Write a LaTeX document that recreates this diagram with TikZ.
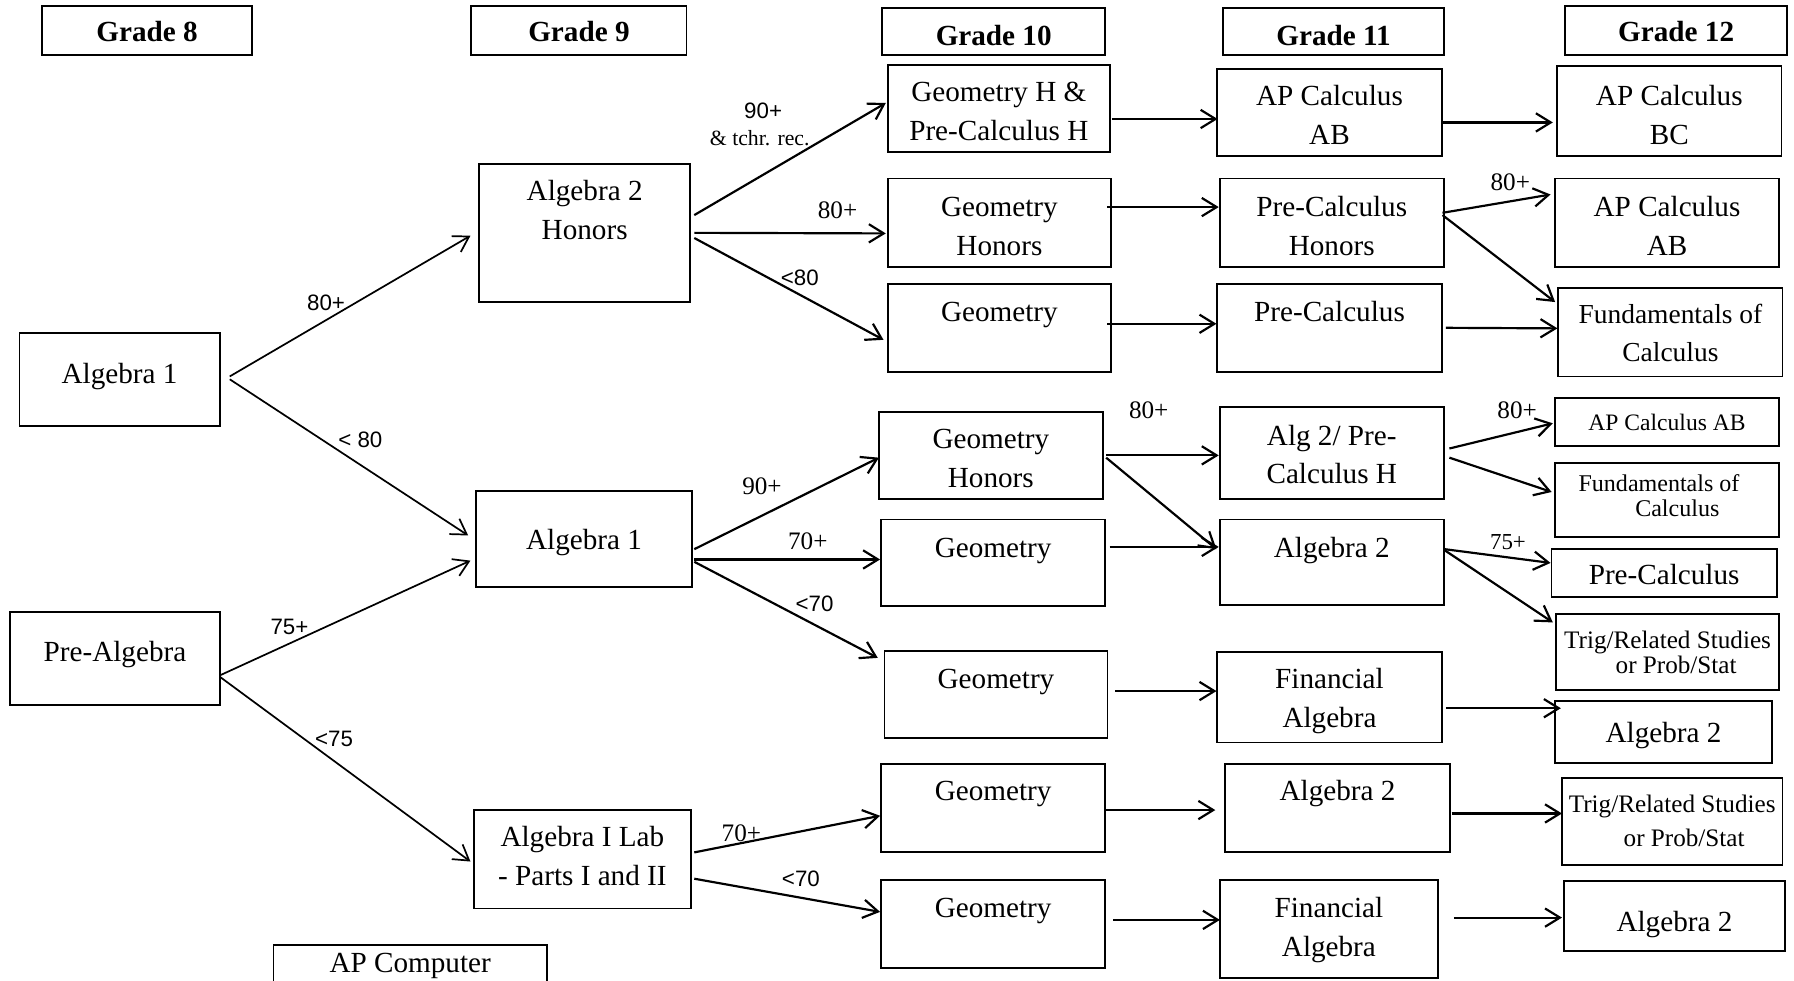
\documentclass[tikz,border=0pt]{standalone}
\usepackage{fontspec}
\setmainfont{Liberation Serif}
\setsansfont{Liberation Sans}
\usetikzlibrary{arrows.meta}
\newcommand\cellbox[1]{\begin{tabular}[t]{@{}c@{}}#1\end{tabular}}
\begin{document}
\begin{tikzpicture}[x=1pt,y=-1pt,
  bx/.style n args={4}{draw, line width=1.6pt, inner sep=0pt,
    font=\fontsize{25.5}{34}\selectfont,
    minimum width=#1pt, minimum height=#2pt, text height=#3pt, text depth=#4pt},
  hdr/.style n args={4}{bx={#1}{#2}{#3}{#4}, font=\bfseries\fontsize{25.5}{34}\selectfont},
  ar/.style={line width=1.9pt, -{Straight Barb[length=13pt,width=16pt]}},
  art/.style={ar, line width=1.5pt},
  ls/.style={inner sep=0pt, font=\sffamily\fontsize{19.5}{22}\selectfont},
  lr/.style={inner sep=0pt, font=\fontsize{22}{24}\selectfont}]
\useasboundingbox (0,0) rectangle (1568,857);
\clip (0,0) rectangle (1568,857);

% headers
\node[hdr={183}{43}{31.5}{11.5}] (g8) at (128.5,26.5) {\cellbox{Grade 8}};
\node[hdr={188}{43}{31.5}{11.5}] (g9) at (506,26.5) {\cellbox{Grade 9}};
\node[hdr={195}{41}{32.5}{8.5}] (g10) at (868.5,27.5) {\cellbox{Grade 10}};
\node[hdr={193}{41}{32.5}{8.5}] (g11) at (1165.5,27.5) {\cellbox{Grade 11}};
\node[hdr={194}{43}{31.5}{11.5}] (g12) at (1465,26.5) {\cellbox{Grade 12}};

% grade 8
\node[bx={175}{81}{44}{37}] (a8) at (104.5,331.5) {\cellbox{Algebra 1}};
\node[bx={183}{81}{43}{38}] (pa) at (100.5,575.5) {\cellbox{Pre-Algebra}};
\node[bx={239}{70}{24}{46}] (apc) at (358.5,861) {\cellbox{AP Computer}};

% grade 9
\node[bx={184}{121}{32}{89}] (a2h) at (511,203.5) {\cellbox{Algebra 2\\Honors}};
\node[bx={189}{84}{51}{33}] (a9) at (510.5,471) {\cellbox{Algebra 1}};
\node[bx={190}{86}{32}{54}] (lab) at (509,751) {\cellbox{Algebra I Lab\\- Parts I and II}};

% grade 10
\node[bx={194}{76}{32}{44}] (t1) at (873,95) {\cellbox{Geometry H \&\\Pre-Calculus H}};
\node[bx={195}{77}{33}{44}] (t2) at (873.5,194.5) {\cellbox{Geometry\\Honors}};
\node[bx={195}{77}{33}{44}] (t3) at (873.5,286.5) {\cellbox{Geometry}};
\node[bx={196}{76}{32}{44}] (m1) at (866,398) {\cellbox{Geometry\\Honors}};
\node[bx={196}{76}{33}{43}] (m2) at (868,492) {\cellbox{Geometry}};
\node[bx={195}{76}{33}{43}] (m3) at (870.5,607) {\cellbox{Geometry}};
\node[bx={196}{77}{32}{45}] (b1) at (868,706.5) {\cellbox{Geometry}};
\node[bx={196}{77}{33}{44}] (b2) at (868,807.5) {\cellbox{Geometry}};

% grade 11
\node[bx={196}{76}{32}{44}] (u1) at (1162,98) {\cellbox{AP Calculus\\AB}};
\node[bx={196}{77}{33}{44}] (u2) at (1164,194.5) {\cellbox{Pre-Calculus\\Honors}};
\node[bx={196}{77}{33}{44}] (u3) at (1162,286.5) {\cellbox{Pre-Calculus}};
\node[bx={196}{80}{33}{47}] (v1) at (1164,396) {\cellbox{Alg 2/ Pre-\\Calculus H}};
\node[bx={196}{75}{33}{42}] (v2) at (1164,491.5) {\cellbox{Algebra 2}};
\node[bx={196}{79}{32}{47}] (v3) at (1162,609.5) {\cellbox{Financial\\Algebra}};
\node[bx={196}{77}{32}{45}] (w1) at (1169,706.5) {\cellbox{Algebra 2}};
\node[bx={191}{86}{33}{53}] (w2) at (1161.5,812) {\cellbox{Financial\\Algebra}};

% grade 12
\node[bx={196}{78}{34}{44}] (z1) at (1459,97) {\cellbox{AP Calculus\\BC}};
\node[bx={196}{77}{33}{44}] (z2) at (1457,194.5) {\cellbox{AP Calculus\\AB}};
\node[bx={196}{77}{31}{46}, font=\fontsize{24}{33}\selectfont] (z3) at (1460,290.5) {\cellbox{Fundamentals of\\Calculus}};
\node[bx={196}{42}{28.5}{13.5}, font=\fontsize{20.6}{24}\selectfont] (y1) at (1457,369) {\cellbox{AP Calculus AB}};
\node[bx={196}{64}{25}{39}, font=\fontsize{21}{21}\selectfont] (y2) at (1457,437) {\cellbox{Fundamentals of\kern14pt\\\kern18pt Calculus}};
\node[bx={197}{42}{30.5}{11.5}] (y3) at (1454.5,501) {\cellbox{Pre-Calculus}};
\node[bx={195}{66}{30}{36}, font=\fontsize{22}{22}\selectfont] (y4) at (1457.5,570) {\cellbox{Trig/Related Studies\\\kern15pt or Prob/Stat}};
\node[bx={190}{54}{36}{18}] (y5) at (1454,640) {\cellbox{Algebra 2}};
\node[bx={193}{76}{30}{46}, font=\fontsize{22}{30}\selectfont] (x1) at (1461.5,718) {\cellbox{Trig/Related Studies\\\kern21pt or Prob/Stat}};
\node[bx={193}{61}{44}{17}] (x2) at (1463.5,800.5) {\cellbox{Algebra 2}};

% connectors grade 8 -> 9
\draw[art] ([xshift=8pt,yshift=2.5pt]a8.east) -- ([xshift=-7pt,yshift=-2.5pt]a2h.west);
\draw[art] ([xshift=8pt]a8.east) -- ([xshift=-6pt,yshift=3pt]a9.west);
\draw[art] ([yshift=-14.5pt]pa.east) -- ([xshift=-4pt,yshift=-19pt]a9.west);
\draw[art] ([yshift=-16.5pt]pa.east) -- ([xshift=-2pt,yshift=-2pt]lab.west);

% grade 9 -> 10
\draw[ar] ([xshift=3pt,yshift=15.5pt]a2h.east) -- ([xshift=-1pt,yshift=5pt]t1.west);
\draw[ar] ([xshift=3pt]a2h.east) -- ([xshift=-1pt,yshift=-9.5pt]t2.west);
\draw[ar] ([xshift=3pt,yshift=-4.5pt]a2h.east) -- ([xshift=-3pt,yshift=-10.5pt]t3.west);
\draw[ar] ([xshift=1pt,yshift=-9pt]a9.east) -- ([xshift=1pt,yshift=-2pt]m1.west);
\draw[ar] ([xshift=1pt,yshift=-18pt]a9.east) -- ([yshift=3pt]m2.west);
\draw[ar] ([xshift=1pt,yshift=-20pt]a9.east) -- ([xshift=-5pt,yshift=32pt]m3.west);
\draw[ar] ([xshift=2pt,yshift=6pt]lab.east) -- ([yshift=-6.5pt]b1.west);
\draw[ar] ([xshift=2pt,yshift=-17pt]lab.east) -- ([yshift=10.5pt]b2.west);

% grade 10 -> 11
\draw[ar] ([xshift=1pt,yshift=-9pt]t1.east) -- ([xshift=1pt,yshift=-6pt]u1.west);
\draw[ar] ([xshift=-4pt,yshift=13.5pt]t2.east) -- ([yshift=13.5pt]u2.west);
\draw[ar] ([xshift=-4pt,yshift=3.5pt]t3.east) -- ([yshift=3.5pt]u3.west);
\draw[ar] ([xshift=2pt]m1.east) -- ([yshift=-2pt]v1.west);
\draw[ar] ([xshift=2pt,yshift=-2pt]m1.east) -- ([xshift=-2pt,yshift=11.5pt]v2.west);
\draw[ar] ([xshift=3pt,yshift=14pt]m2.east) -- ([yshift=13.5pt]v2.west);
\draw[ar] ([xshift=6pt,yshift=3pt]m3.east) -- ([yshift=5.5pt]v3.west);
\draw[ar] ([yshift=-1.5pt]b1.east) -- ([xshift=-8pt,yshift=-1.5pt]w1.west);
\draw[ar] ([xshift=6pt,yshift=3.5pt]b2.east) -- ([xshift=1pt,yshift=8pt]w2.west);

% grade 11 -> 12
\draw[ar] ([xshift=-1pt,yshift=-9pt]u1.east) -- ([xshift=-3pt,yshift=-10pt]z1.west);
\draw[ar] ([xshift=-2pt,yshift=8.5pt]u2.east) -- ([xshift=-3pt,yshift=24.5pt]z2.west);
\draw[ar] ([xshift=-2pt,yshift=6.5pt]u2.east) -- ([xshift=-2pt,yshift=26.5pt]z3.west);
\draw[ar] ([xshift=3pt]u3.east) -- ([yshift=3.5pt]z3.west);
\draw[ar] ([xshift=4pt,yshift=4pt]v1.east) -- ([xshift=-1pt,yshift=-1pt]y1.west);
\draw[ar] ([xshift=4pt,yshift=-4pt]v1.east) -- ([xshift=-2pt,yshift=7pt]y2.west);
\draw[ar] ([yshift=11.5pt]v2.east) -- ([yshift=9pt]y3.west);
\draw[ar] ([yshift=10.5pt]v2.east) -- ([xshift=-2pt,yshift=26pt]y4.west);
\draw[ar] ([xshift=3pt,yshift=-9.5pt]v3.east) -- ([xshift=6pt,yshift=21pt]y5.west);
\draw[ar] ([xshift=1pt,yshift=-4.5pt]w1.east) -- ([xshift=1pt,yshift=7pt]x1.west);
\draw[ar] ([xshift=13pt,yshift=10pt]w2.east) -- ([xshift=-1pt,yshift=-1.5pt]x2.west);

% labels
\node[ls] (l1) at (285,265) {80+};
\node[ls] (l2) at (315,384) {< 80};
\node[ls] (l3) at (253,548) {75+};
\node[ls] (l4) at (292,646) {<75};
\node[ls] (l5) at (667,97) {90+};
\node[lr, font=\fontsize{19}{21}\selectfont] (l5b) at (664,121) {\& tchr. rec.};
\node[lr] (l6) at (732,184) {80+};
\node[ls] (l7) at (699,243) {<80};
\node[lr] (l8) at (666,425) {90+};
\node[lr] (l9) at (706,473) {70+};
\node[ls] (l10) at (712,528) {<70};
\node[lr] (l11) at (648,728) {70+};
\node[ls] (l12) at (700,768) {<70};
\node[lr] (l16) at (1004,359) {80+};
\node[lr] (l23) at (1320,159) {80+};
\node[lr] (l26) at (1326,359) {80+};
\node[lr, font=\fontsize{20}{22}\selectfont] (l28) at (1318,474) {75+};
\end{tikzpicture}
\end{document}
